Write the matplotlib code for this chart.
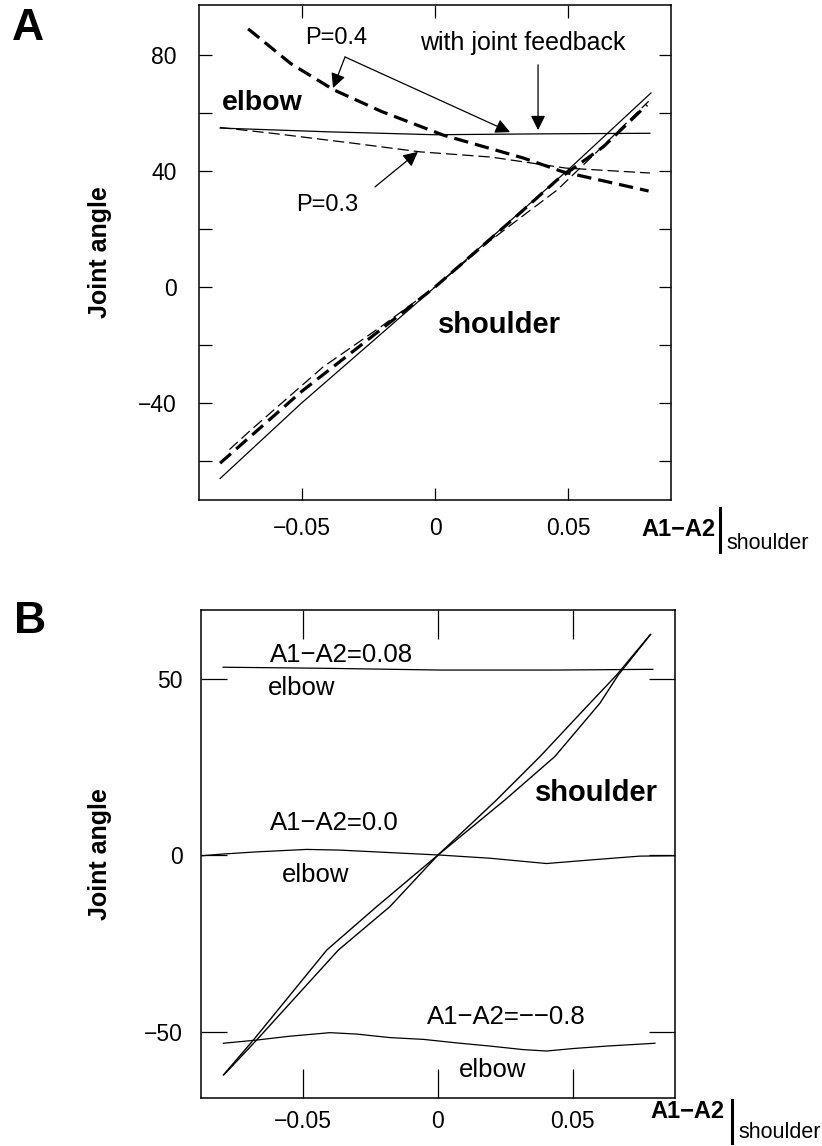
import matplotlib
matplotlib.use("Agg")
import matplotlib.pyplot as plt
from matplotlib.lines import Line2D

plt.rcParams["font.family"] = ["Liberation Sans", "DejaVu Sans"]

# ---- panel A data ----
a_sh_solid_x = [-0.0805, -0.05, 0.0, 0.05, 0.0809]
a_sh_solid_y = [-66.0, -40.0, 0.0, 40.5, 66.9]
a_sh_p3_x = [-0.077, -0.069, -0.042, -0.02, 0.0, 0.02, 0.035, 0.0457, 0.06, 0.08]
a_sh_p3_y = [-56.0, -49.3, -27.6, -13.5, 0.0, 15.5, 26.0, 33.4, 46.0, 64.0]
a_sh_p4_x = [-0.0805, -0.05, -0.027, 0.0, 0.03, 0.0457, 0.063, 0.0794]
a_sh_p4_y = [-60.7, -36.0, -19.5, 0.0, 24.0, 36.9, 48.3, 62.8]

a_el_solid_x = [-0.0805, -0.04, 0.0, 0.04, 0.0805]
a_el_solid_y = [54.8, 53.5, 52.5, 52.8, 53.0]
a_el_p3_x = [-0.0805, -0.061, -0.03, -0.0056, 0.021, 0.049, 0.0805]
a_el_p3_y = [55.0, 53.0, 49.5, 46.6, 44.8, 41.0, 39.3]
a_el_p4_x = [-0.070, -0.054, -0.038, -0.02, 0.003, 0.033, 0.048, 0.080]
a_el_p4_y = [89.0, 77.0, 68.0, 60.5, 52.4, 44.5, 39.7, 33.1]

a_yticks = [-60, -40, -20, 0, 20, 40, 60, 80]
a_ylabels = ["", "\u221240", "", "0", "", "40", "", "80"]
xticks = [-0.05, 0.0, 0.05]
xlabels = ["\u22120.05", "0", "0.05"]

# ---- panel B data ----
b_sh1_x = [-0.0795, -0.0684, -0.0412, -0.0227, 0.0, 0.0217, 0.0378, 0.0563, 0.0662, 0.0785]
b_sh1_y = [-62.3, -52.4, -26.9, -14.6, 0.0, 15.6, 27.9, 43.0, 51.0, 62.3]
b_sh2_x = [-0.079, -0.0672, -0.0369, -0.0178, 0.0, 0.0248, 0.0433, 0.060, 0.0668, 0.0788]
b_sh2_y = [-62.0, -52.4, -26.9, -14.6, 0.0, 15.6, 27.9, 43.0, 51.0, 62.5]

b_el_top_x = [-0.0796, -0.0425, 0.0007, 0.044, 0.0796]
b_el_top_y = [53.2, 52.9, 52.4, 52.4, 52.6]
b_el_mid_x = [-0.0875, -0.0795, -0.0672, -0.0486, -0.0363, -0.0178, 0.0007,
              0.0193, 0.0402, 0.0563, 0.0748, 0.0878]
b_el_mid_y = [-0.2, 0.3, 0.9, 1.6, 1.4, 0.7, 0.0, -0.9, -2.4, -1.4, -0.3, -0.2]
b_el_bot_x = [-0.0795, -0.0672, -0.0548, -0.0400, -0.0301, -0.0178, -0.0054,
              0.0069, 0.0193, 0.0316, 0.0402, 0.0501, 0.0625, 0.0804]
b_el_bot_y = [-53.3, -52.4, -51.3, -50.3, -50.7, -51.7, -52.2,
              -53.2, -54.1, -55.1, -55.5, -54.8, -54.1, -53.3]

b_yticks = [-50, 0, 50]
b_ylabels = ["\u221250", "0", "50"]

fig = plt.figure(figsize=(8.22, 11.46), dpi=100)

# ================= panel A =================
axA = fig.add_axes([0.2421, 0.5637, 0.5742, 0.4319])
axA.set_xlim(-0.0884, 0.0884)
axA.set_ylim(-73.4, 97.2)

axA.plot(a_sh_solid_x, a_sh_solid_y, color="black", lw=0.9)
axA.plot(a_sh_p3_x, a_sh_p3_y, color="black", lw=0.9, dashes=(9, 4))
axA.plot(a_sh_p4_x, a_sh_p4_y, color="black", lw=2.3, dashes=(4.5, 2.2))
axA.plot(a_el_solid_x, a_el_solid_y, color="black", lw=0.9)
axA.plot(a_el_p3_x, a_el_p3_y, color="black", lw=0.9, dashes=(9, 4))
axA.plot(a_el_p4_x, a_el_p4_y, color="black", lw=2.3, dashes=(4.5, 2.2))

axA.set_xticks(xticks)
axA.set_xticklabels(xlabels)
axA.set_yticks(a_yticks)
axA.set_yticklabels(a_ylabels)
axA.tick_params(direction="in", top=True, right=True, length=9, width=0.9,
                labelsize=16.5)
axA.tick_params(axis="y", pad=16)
axA.tick_params(axis="x", pad=12)
axA.set_ylabel("Joint angle", fontsize=18, fontweight="bold")
axA.yaxis.set_label_coords(-0.184, 0.5)

axA.text(-0.0648, 63.4, "elbow", fontsize=20.5, fontweight="bold",
         ha="center", va="center")
axA.text(0.0243, -13.1, "shoulder", fontsize=21, fontweight="bold",
         ha="center", va="center")
axA.text(-0.037, 85.9, "P=0.4", fontsize=17, ha="center", va="center")
axA.text(0.033, 84.0, "with joint feedback", fontsize=18, ha="center", va="center")
axA.text(-0.0404, 28.3, "P=0.3", fontsize=17, ha="center", va="center")

arrow = dict(arrowstyle="-|>", color="black", lw=0.9, mutation_scale=22,
             shrinkA=0, shrinkB=0)
axA.annotate("", xy=(-0.0382, 68.6), xytext=(-0.0337, 79.3), arrowprops=arrow)
axA.annotate("", xy=(0.0281, 53.4), xytext=(-0.0337, 79.3), arrowprops=arrow)
axA.annotate("", xy=(0.0386, 54.1), xytext=(0.0386, 76.6), arrowprops=arrow)
axA.annotate("", xy=(-0.0064, 46.6), xytext=(-0.0225, 34.5), arrowprops=arrow)

# composite x label
axA.text(1.015, -0.0586, "A1\u2212A2", transform=axA.transAxes, fontsize=17,
         fontweight="bold", ha="center", va="center")
axA.add_line(Line2D([1.104, 1.104], [-0.016, -0.105], transform=axA.transAxes,
                    color="black", lw=2.2, clip_on=False))
axA.text(1.1165, -0.0869, "shoulder", transform=axA.transAxes, fontsize=15.5,
         ha="left", va="center")

# ================= panel B =================
axB = fig.add_axes([0.2445, 0.0419, 0.5766, 0.4258])
axB.set_xlim(-0.0878, 0.0878)
axB.set_ylim(-68.8, 69.4)

axB.plot(b_sh1_x, b_sh1_y, color="black", lw=1.0)
axB.plot(b_sh2_x, b_sh2_y, color="black", lw=1.0)
axB.plot(b_el_top_x, b_el_top_y, color="black", lw=0.9)
axB.plot(b_el_mid_x, b_el_mid_y, color="black", lw=0.9)
axB.plot(b_el_bot_x, b_el_bot_y, color="black", lw=0.9)

axB.set_xticks(xticks)
axB.set_xticklabels(xlabels)
axB.set_yticks(b_yticks)
axB.set_yticklabels(b_ylabels)
axB.tick_params(direction="in", top=True, right=True, width=0.9, labelsize=16.5)
axB.tick_params(axis="x", length=21, pad=9)
axB.tick_params(axis="y", length=19, pad=13)
axB.set_ylabel("Joint angle", fontsize=18, fontweight="bold")
axB.yaxis.set_label_coords(-0.188, 0.5)

axB.text(-0.0622, 56.7, "A1\u2212A2=0.08", fontsize=18.5, ha="left", va="center")
axB.text(-0.063, 47.3, "elbow", fontsize=18.5, ha="left", va="center")
axB.text(0.0359, 17.6, "shoulder", fontsize=21, fontweight="bold",
         ha="left", va="center")
axB.text(-0.0622, 9.1, "A1\u2212A2=0.0", fontsize=18.5, ha="left", va="center")
axB.text(-0.058, -5.7, "elbow", fontsize=18.5, ha="left", va="center")
axB.text(-0.0041, -45.9, "A1\u2212A2=\u2212\u22120.8", fontsize=18.5,
         ha="left", va="center")
axB.text(0.0078, -60.9, "elbow", fontsize=18.5, ha="left", va="center")

axB.text(1.026, -0.0287, "A1\u2212A2", transform=axB.transAxes, fontsize=17,
         fontweight="bold", ha="center", va="center")
axB.add_line(Line2D([1.120, 1.120], [-0.004, -0.092], transform=axB.transAxes,
                    color="black", lw=2.2, clip_on=False))
axB.text(1.133, -0.0717, "shoulder", transform=axB.transAxes, fontsize=15.5,
         ha="left", va="center")

for ax in (axA, axB):
    for s in ax.spines.values():
        s.set_linewidth(1.1)

fig.text(0.034, 0.9747, "A", fontsize=32, fontweight="bold", ha="center", va="center")
fig.text(0.0365, 0.458, "B", fontsize=32, fontweight="bold", ha="center", va="center")

fig.savefig("out.png", dpi=100)
